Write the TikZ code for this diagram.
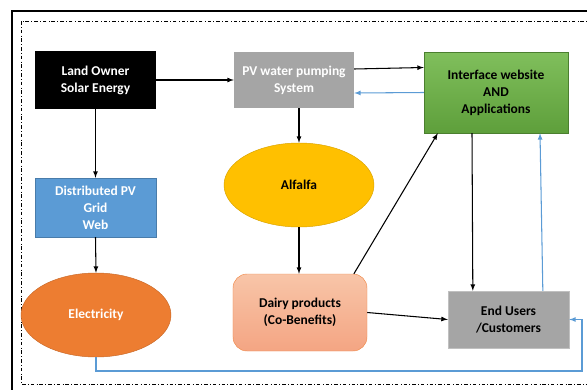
\documentclass[tikz,border=0pt]{standalone}
\usepackage{fontspec}
\setmainfont{Carlito}
\usetikzlibrary{arrows,shapes.geometric}

\definecolor{boxgray}{HTML}{A5A5A5}
\definecolor{gridblue}{HTML}{5B9BD5}
\definecolor{elecorange}{HTML}{ED7D31}
\definecolor{alfyellow}{HTML}{FFC000}
\definecolor{webgreenA}{HTML}{80BF5C}
\definecolor{webgreenB}{HTML}{5E9F3B}
\definecolor{dairyA}{HTML}{F8C5A8}
\definecolor{dairyB}{HTML}{F4A583}
\definecolor{dairyedge}{HTML}{F08A4B}

\tikzset{
	blk/.style={rectangle, inner sep=2pt, align=center, font=\fontsize{11.5}{14.5}\selectfont\bfseries},
	oval/.style={ellipse, inner sep=1pt, align=center, font=\fontsize{11.5}{14.5}\selectfont\bfseries},
	flow/.style={-latex, line width=0.9pt, black},
	back/.style={-latex, line width=0.9pt, gridblue},
}

\begin{document}
\begin{tikzpicture}[x=0.03cm, y=-0.03cm]
				\clip (0,0) rectangle (587,389);
				%draw frames
				\draw[line width=1.8pt] (12,411) -- (12,11) -- (620,11);
				\draw[dash dot, line width=0.5pt] (21,21) rectangle (620,384);
				%draw boxes
				\node[blk, fill=black, text=white, minimum width=3.63cm, minimum height=1.74cm] (owner) at (95.5,80) {Land Owner\\Solar Energy};
				\node[blk, fill=boxgray, text=white, minimum width=3.6cm, minimum height=1.68cm] (pump) at (294,80) {PV water pumping\\System};
				\node[blk, draw=webgreenB!80!black, top color=webgreenA, bottom color=webgreenB, minimum width=4.32cm, minimum height=2.43cm] (web) at (496,92.5) {Interface website\\AND\\Applications};
				\node[blk, draw=gridblue!80!black, fill=gridblue, text=white, minimum width=3.63cm, minimum height=1.77cm] (grid) at (95.5,207.5) {Distributed PV\\Grid\\Web};
				\node[oval, draw=elecorange!85!black, fill=elecorange, text=white, minimum width=4.5cm, minimum height=2.52cm] (elec) at (96,315) {Electricity};
				\node[oval, draw=alfyellow!85!black, fill=alfyellow, minimum width=4.5cm, minimum height=2.52cm] (alfalfa) at (299,185) {Alfalfa};
				\node[blk, rounded corners=12pt, draw=dairyedge, top color=dairyA, bottom color=dairyB, minimum width=4.02cm, minimum height=2.31cm] (dairy) at (300,312.5) {Dairy products\\(Co-Benefits)};
				\node[blk, draw=boxgray!70!white, fill=boxgray, minimum width=3.63cm, minimum height=1.71cm] (users) at (508.5,319.5) {End Users\\/Customers};
				%draw arrows
				\draw[flow] (owner.east) -- (pump.west);
				\draw[flow] (owner.south) -- (grid.north);
				\draw[flow] (grid.south) -- (elec.north);
				\draw[flow] ([yshift=0.33cm]pump.east) -- ([yshift=0.75cm]web.west);
				\draw[back] (web.west) -- ([yshift=-0.39cm]pump.east);
				\draw[flow] (pump.south -| alfalfa.north) -- (alfalfa.north);
				\draw[flow] (alfalfa.south) -- (alfalfa.south |- dairy.north);
				\draw[flow] ([xshift=-0.4cm]dairy.north east) -- ([xshift=0.42cm]web.south west);
				\draw[flow] ([xshift=-0.72cm]web.south) -- ([xshift=-1.07cm]users.north);
				\draw[back] ([xshift=1.03cm]users.north) -- ([xshift=1.32cm]web.south);
				\draw[flow] (dairy.east) -- (users.west);
				\draw[back] (elec.south) |- (582,371) |- (users.east);
\end{tikzpicture}
\end{document}
